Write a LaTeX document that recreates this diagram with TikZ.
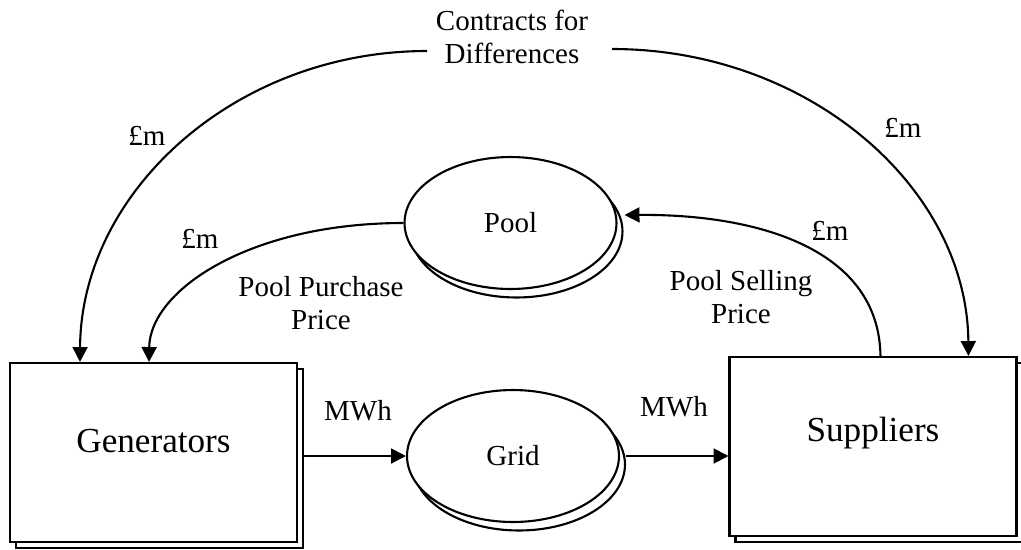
\documentclass[tikz,border=0pt]{standalone}
\usepackage{fontspec}
\setmainfont{Liberation Serif}
\usetikzlibrary{positioning,calc,shapes.geometric,arrows.meta,shadows}

\tikzset{
  party/.style={draw,fill=white,line width=1.2pt,minimum width=5.74cm,minimum height=3.58cm,
    font=\fontsize{20}{24}\selectfont,text height=14pt,
    general shadow={draw,fill=white,line width=1.2pt,shadow xshift=0.12cm,shadow yshift=-0.12cm}},
  market/.style={ellipse,draw,fill=white,line width=1.2pt,inner sep=0pt,
    minimum width=4.24cm,minimum height=2.64cm,font=\fontsize{16.5}{18.7}\selectfont,
    general shadow={draw,fill=white,line width=1.2pt,shadow xshift=0.12cm,shadow yshift=-0.17cm}},
  lbl/.style={font=\fontsize{16.5}{18.7}\selectfont,align=center,inner sep=1pt},
  flow/.style={line width=1.2pt,-{Triangle[length=8.5pt,width=8.5pt]}}
}

\begin{document}
\begin{tikzpicture}[x=0.02cm,y=-0.02cm]
      \useasboundingbox (0,0) rectangle (1021,549);
      \node[party,text depth=14.5pt] (gen) at (153.5,452.5) {Generators};
      \node[party,text depth=20pt] (sup) at (873,446.5) {Suppliers};
      \node[market] (pool) at (510.5,223) {Pool};
      \node[market] (grid) at (513,456) {Grid};
      \node[lbl] (cfd) at (512,37) {Contracts for\\Differences};
      \coordinate (cfdL) at (427,51);\coordinate (cfdR) at (612,49);
      % money flows
      \draw[flow] (cfdL) .. controls (236,51) and (81,191) .. ($(gen.north west)+(71,0)$);
      \draw[flow] (cfdR) .. controls (808,49) and (967,187) .. ($(sup.north west)+(240,0)$);
      \draw[flow] (pool.west) .. controls (250,223) and (150,290) .. ($(gen.north west)+(140,0)$);
      \draw[flow] ($(sup.north west)+(152,0)$) .. controls (879,250) and (760,214) .. ($(pool.east)+(7,-8)$);
      % energy flows
      \draw[flow] ($(gen.east |- grid.west)+(6,0)$) -- (grid.west);
      \draw[flow] ($(grid.east)+(6,0)$) -- (sup.west |- grid.east);
      \node[lbl] (m1) at (147,136) {£m};
      \node[lbl] (m2) at (200,239) {£m};
      \node[lbl] (m3) at (903,128) {£m};
      \node[lbl] (m4) at (830,231) {£m};
      \node[lbl] (ppp) at (321,303) {Pool Purchase\\Price};
      \node[lbl] (psp) at (741,297) {Pool Selling\\Price};
      \node[lbl] (mwh1) at (358,411) {MWh};
      \node[lbl] (mwh2) at (674,407) {MWh};
    \end{tikzpicture}
\end{document}
